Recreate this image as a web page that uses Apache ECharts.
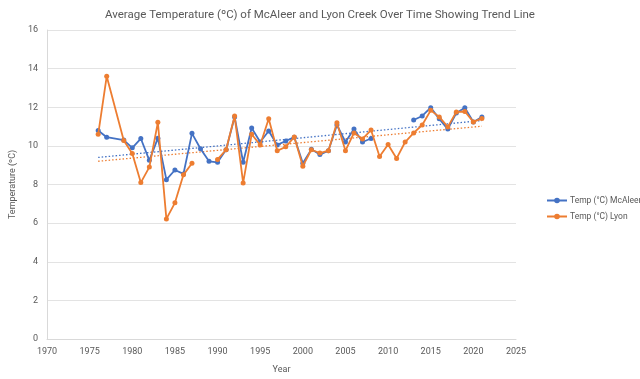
<!DOCTYPE html>
<html><head><meta charset="utf-8">
<script src="https://cdn.jsdelivr.net/npm/echarts@6/dist/echarts.min.js"></script>
<style>html,body{margin:0;padding:0;background:#fff}#c{width:640px;height:379px}</style>
</head><body><div id="c"></div>
<script>
const years = [1976,1977,1979,1980,1981,1982,1983,1984,1985,1986,1987,1988,1989,1990,1991,1992,1993,1994,1995,1996,1997,1998,1999,2000,2001,2002,2003,2004,2005,2006,2007,2008,2009,2010,2011,2012,2013,2014,2015,2016,2017,2018,2019,2020,2021];
const mcaleer = [10.8,10.45,10.3,9.9,10.38,9.25,10.4,8.25,8.75,8.55,10.65,9.85,9.2,9.15,9.8,11.5,9.15,10.93,10.2,10.77,10.05,10.25,10.45,9.1,9.82,9.55,9.75,11.08,10.2,10.87,10.2,10.38,null,null,null,null,11.34,11.55,11.98,11.4,10.87,11.7,11.97,11.24,11.5];
const lyon = [10.6,13.6,10.28,9.6,8.1,8.9,11.22,6.22,7.05,8.5,9.1,null,null,9.3,9.8,11.55,8.08,10.6,10.05,11.4,9.75,9.95,10.46,8.95,9.8,9.63,9.75,11.2,9.75,10.67,10.36,10.82,9.45,10.07,9.35,10.2,10.67,11.08,11.84,11.5,10.98,11.76,11.78,11.24,11.42];
const seriesNames = ['Temp (°C) McAleer','Temp (°C) Lyon'];
const colors = ['#4472C4','#ED7D31'];
const titleText = 'Average Temperature (ºC) of McAleer and Lyon Creek Over Time Showing Trend Line';
const xName = 'Year';
const yName = 'Temperature (ºC)';

function pairs(v){ return years.map((y,i)=>[y, v[i]===null ? '-' : v[i]]); }
function trend(v){
  const xs=[],ys=[];
  years.forEach((y,i)=>{ if(v[i]!==null){xs.push(y);ys.push(v[i]);} });
  const n=xs.length, mx=xs.reduce((a,b)=>a+b)/n, my=ys.reduce((a,b)=>a+b)/n;
  let sxy=0,sxx=0; for(let i=0;i<n;i++){sxy+=(xs[i]-mx)*(ys[i]-my);sxx+=(xs[i]-mx)**2;}
  const b=sxy/sxx, a=my-b*mx;
  const x0=Math.min(...xs), x1=Math.max(...xs);
  return [[x0,a+b*x0],[x1,a+b*x1]];
}
const font = 'Roboto, sans-serif';
const chart = echarts.init(document.getElementById('c'), null, {renderer:'canvas'});
chart.setOption({
  animation:false,
  textStyle:{fontFamily:font},
  title:{text:titleText,left:'center',top:4,textStyle:{fontFamily:font,fontSize:11.5,fontWeight:'normal',color:'#595959'}},
  grid:{left:43,right:124,top:30,bottom:40,containLabel:false},
  legend:{data:seriesNames,orient:'vertical',left:541,top:191,itemWidth:20,itemHeight:7,itemGap:7,
    textStyle:{fontFamily:font,fontSize:8.5,color:'#595959',padding:[0,0,0,-2]}},
  xAxis:{type:'value',min:1970,max:2025,interval:5,name:xName,nameLocation:'middle',nameGap:26,
    nameTextStyle:{fontFamily:font,fontSize:9,color:'#595959'},
    axisLine:{show:true,lineStyle:{color:'#d9d9d9'}},axisTick:{show:false},splitLine:{show:false},
    axisLabel:{fontFamily:font,fontSize:9,color:'#595959',margin:8,formatter:v=>String(v)}},
  yAxis:{type:'value',min:0,max:16,interval:2,name:yName,nameLocation:'middle',nameGap:24,
    nameTextStyle:{fontFamily:font,fontSize:9,color:'#595959'},
    axisLine:{show:true,lineStyle:{color:'#d9d9d9'}},axisTick:{show:false},
    splitLine:{lineStyle:{color:'#e3e3e3'}},
    axisLabel:{fontFamily:font,fontSize:9,color:'#595959',margin:9}},
  series:[
    {name:seriesNames[0],type:'line',data:pairs(mcaleer),connectNulls:false,symbol:'circle',symbolSize:5,
      itemStyle:{color:colors[0]},lineStyle:{color:colors[0],width:1.8},z:3},
    {name:seriesNames[1],type:'line',data:pairs(lyon),connectNulls:false,symbol:'circle',symbolSize:5,
      itemStyle:{color:colors[1]},lineStyle:{color:colors[1],width:1.8},z:4},
    {name:'trend1',type:'line',data:trend(mcaleer),symbol:'none',lineStyle:{color:colors[0],width:1.3,type:[1.5,2]},z:2,silent:true},
    {name:'trend2',type:'line',data:trend(lyon),symbol:'none',lineStyle:{color:colors[1],width:1.3,type:[1.5,2]},z:2,silent:true}
  ]
});
</script></body></html>
